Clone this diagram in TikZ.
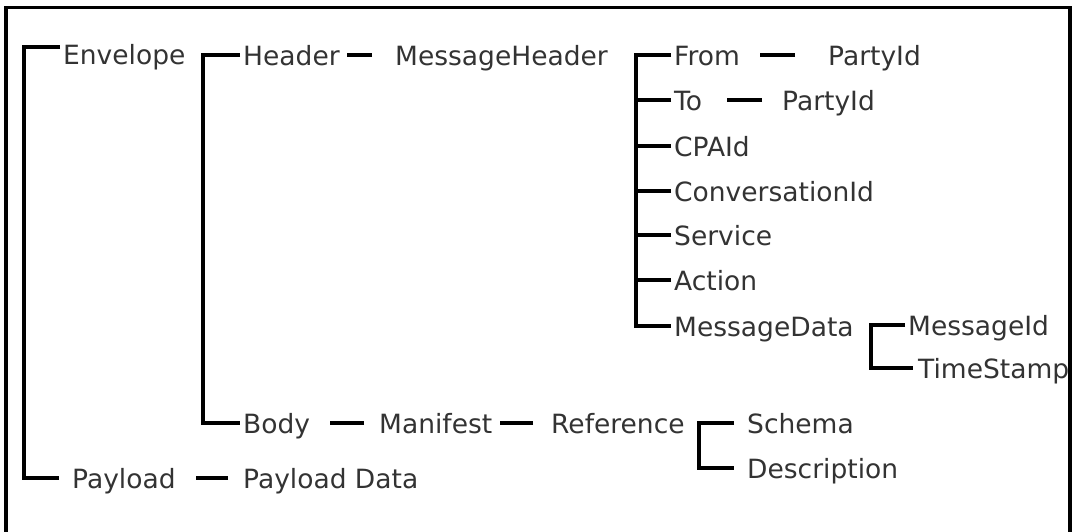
\documentclass[tikz,border=0pt]{standalone}
\usepackage{fontspec}
\setmainfont{DejaVu Sans}
\begin{document}
\begin{tikzpicture}[x=1pt,y=-1pt,
  lbl/.style={font=\fontsize{26.5}{26.5}\selectfont, text=black!80, anchor=base west,
    inner xsep=3pt, inner ysep=0pt, text height=20pt, text depth=0pt},
  conn/.style={line width=3.3pt, line cap=butt, line join=miter, black},
  frame/.style={line width=3.3pt, black}]
\useasboundingbox (0,0) rectangle (1074,531);
\clip (0,0) rectangle (1074,531);
% frame
\draw[frame] (6,545) -- (6,7.5) -- (1070,7.5) -- (1070,545);
% nodes
\node[lbl] (env)   at (60,64)  {Envelope};
\node[lbl] (hdr)   at (240,65) {Header};
\node[lbl] (mh)    at (392,65) {MessageHeader};
\node[lbl] (from)  at (671,65) {From};
\node[lbl] (pid1)  at (825,65) {PartyId};
\node[lbl] (to)    at (671,110) {To};
\node[lbl] (pid2)  at (779,110) {PartyId};
\node[lbl] (cpa)   at (671,156) {CPAId};
\node[lbl] (conv)  at (671,201) {ConversationId};
\node[lbl] (svc)   at (671,245) {Service};
\node[lbl] (act)   at (671,290) {Action};
\node[lbl] (md)    at (671,336) {MessageData};
\node[lbl] (mid)   at (905,335) {MessageId};
\node[lbl] (ts)    at (915,378) {TimeStamp};
\node[lbl] (body)  at (240,433) {Body};
\node[lbl] (man)   at (376,433) {Manifest};
\node[lbl] (ref)   at (548,433) {Reference};
\node[lbl] (sch)   at (744,433) {Schema};
\node[lbl] (desc)  at (744,478) {Description};
\node[lbl] (pay)   at (69,488) {Payload};
\node[lbl] (pdata) at (240,488) {Payload Data};
% Envelope / Payload bracket
\draw[conn] ([yshift=7pt]env.west) -- ++(-36,0) |- ([xshift=-10pt]pay.west);
% Header / Body bracket
\draw[conn] (hdr.west) -- ++(-37,0) |- (body.west);
% MessageHeader bracket
\draw[conn] (from.west) -- ++(-35,0) |- (md.west);
\foreach \n in {to,cpa,conv,svc,act}{
  \draw[conn] (\n.west) -- ++(-35,0);
}
% MessageData bracket
\draw[conn] (mid.west) -- ++(-34,0) |- ([xshift=-2pt]ts.west);
% Reference bracket
\draw[conn] ([xshift=-10pt]sch.west) -- ++(-35,0) |- ([xshift=-10pt]desc.west);
% dashes
\draw[conn] ([xshift=-20pt]mh.west) -- ++(-25,0);
\draw[conn] ([xshift=-30pt]pid1.west) -- ++(-35,0);
\draw[conn] ([xshift=-17pt]pid2.west) -- ++(-35,0);
\draw[conn] ([xshift=-12pt]man.west) -- ++(-34,0);
\draw[conn] ([xshift=-15pt]ref.west) -- ++(-33,0);
\draw[conn] ([xshift=-12pt]pdata.west) -- ++(-32,0);
\end{tikzpicture}
\end{document}
